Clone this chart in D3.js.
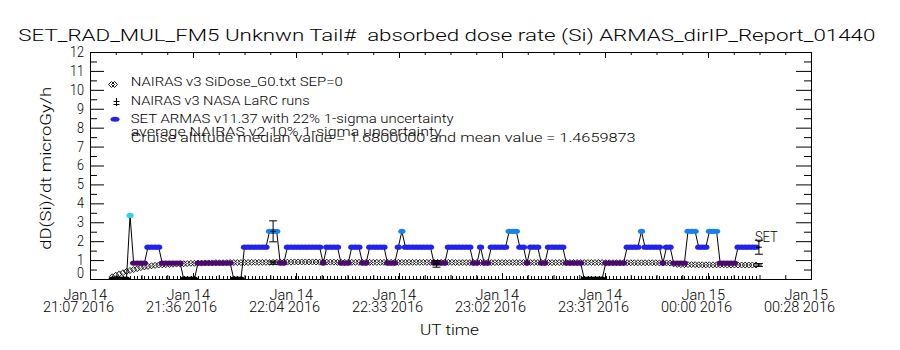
<!DOCTYPE html>
<html>
<head>
<meta charset="utf-8">
<script src="https://cdn.jsdelivr.net/npm/d3@7"></script>
<style>
    body { margin: 0; background: #fff; }
    text { font-family: Roboto, "Liberation Sans", Arial, sans-serif; font-weight: 300; fill: #000; }
</style>
</head>
<body>
<div id="chart-area"></div>
<script>
// x range of the plot (UT)
let xDomain = ["2016-01-14T21:07:18Z", "2016-01-15T00:28:54Z"];
let yTicks = [0, 1, 2, 3, 4, 5, 6, 7, 8, 9, 10, 11, 12];

// ARMAS samples, one per minute from armasStart
let armasStart = "2016-01-14T21:13:30Z";
let armasDose = [
    0, 0, 0, 0, 0, 3.36, 0.84, 0.84, 0.84, 0.84,
    1.68, 1.68, 1.68, 1.68, 0.84, 0.84, 0.84, 0.84, 0.84, 0.84,
    0, 0, 0, 0, 0.84, 0.84, 0.84, 0.84, 0.84, 0.84,
    0.84, 0.84, 0.84, 0.84, 0, 0, 0, 1.68, 1.68, 1.68,
    1.68, 1.68, 1.68, 1.68, 2.52, 2.52, 2.52, 0.84, 0.84, 1.68,
    1.68, 1.68, 1.68, 1.68, 1.68, 1.68, 1.68, 1.68, 1.68, 0.84,
    1.68, 1.68, 1.68, 1.68, 0.84, 0.84, 0.84, 1.68, 1.68, 1.68,
    0.84, 0.84, 1.68, 1.68, 1.68, 1.68, 1.68, 0.84, 0.84, 0.84,
    1.68, 2.52, 1.68, 1.68, 1.68, 1.68, 1.68, 1.68, 1.68, 1.68,
    0.84, 0.84, 0.84, 0.84, 1.68, 1.68, 1.68, 1.68, 1.68, 1.68,
    1.68, 0.84, 0.84, 1.68, 0.84, 0.84, 1.68, 1.68, 1.68, 1.68,
    1.68, 2.52, 2.52, 2.52, 1.68, 1.68, 0.84, 1.68, 1.68, 1.68,
    0.84, 0.84, 1.68, 1.68, 1.68, 1.68, 1.68, 0.84, 0.84, 0.84,
    0.84, 0.84, 0, 0, 0, 0, 0, 0, 0.84, 0.84,
    0.84, 0.84, 0.84, 0.84, 1.68, 1.68, 1.68, 1.68, 2.52, 1.68,
    1.68, 1.68, 1.68, 1.68, 0.84, 1.68, 1.68, 0.84, 0.84, 0.84,
    0.84, 2.52, 2.52, 2.52, 1.68, 1.68, 1.68, 2.52, 2.52, 2.52,
    0.84, 0.84, 0.84, 0.84, 0.84, 1.68, 1.68, 1.68, 1.68, 1.68,
    1.68
];
// NAIRAS v3 SiDose at the same times
let nairasDose = [
    0.12, 0.20, 0.27, 0.33, 0.40, 0.45, 0.50, 0.55, 0.60, 0.64,
    0.67, 0.70, 0.72, 0.74, 0.75, 0.76, 0.77, 0.78, 0.79, 0.80,
    0.81, 0.82, 0.83, 0.83, 0.84, 0.84, 0.85, 0.85, 0.85, 0.86,
    0.86, 0.86, 0.86, 0.87, 0.87, 0.87, 0.87, 0.87, 0.87, 0.88,
    0.88, 0.88, 0.88, 0.88, 0.88, 0.88, 0.89, 0.89, 0.89, 0.89,
    0.89, 0.90, 0.90, 0.90, 0.90, 0.90, 0.90, 0.90, 0.89, 0.89,
    0.89, 0.89, 0.89, 0.88, 0.88, 0.88, 0.88, 0.88, 0.88, 0.88,
    0.88, 0.88, 0.88, 0.88, 0.88, 0.88, 0.88, 0.88, 0.88, 0.88,
    0.88, 0.88, 0.88, 0.88, 0.88, 0.88, 0.88, 0.88, 0.88, 0.88,
    0.88, 0.88, 0.88, 0.88, 0.88, 0.88, 0.87, 0.87, 0.87, 0.87,
    0.87, 0.87, 0.87, 0.87, 0.87, 0.87, 0.87, 0.87, 0.87, 0.87,
    0.87, 0.87, 0.87, 0.87, 0.87, 0.87, 0.87, 0.87, 0.87, 0.87,
    0.87, 0.87, 0.87, 0.87, 0.87, 0.87, 0.87, 0.87, 0.87, 0.87,
    0.87, 0.87, 0.87, 0.87, 0.87, 0.87, 0.87, 0.87, 0.86, 0.86,
    0.86, 0.86, 0.86, 0.86, 0.86, 0.86, 0.86, 0.86, 0.86, 0.86,
    0.86, 0.86, 0.86, 0.85, 0.85, 0.85, 0.84, 0.80, 0.77, 0.76,
    0.76, 0.76, 0.76, 0.76, 0.75, 0.75, 0.75, 0.75, 0.75, 0.75,
    0.75, 0.75, 0.74, 0.74, 0.74, 0.74, 0.74, 0.74, 0.74, 0.74,
    0.74
];

// NASA LaRC comparison runs
let larcTimes = ["2016-01-14T21:58:30Z", "2016-01-14T22:44:10Z", "2016-01-15T00:14:20Z"];
let larcArmas = [2.52, 0.80, 1.68];
let larcNairas = [0.86, 0.88, 0.74];
let armasUnc = 0.22, nairasUnc = 0.10;

let legendLabels = [
    "NAIRAS v3 SiDose_G0.txt SEP=0",
    "NAIRAS v3 NASA LaRC runs",
    "SET ARMAS v11.37 with 22% 1-sigma uncertainty"
];
let infoLines = [
    "average NAIRAS v2 10% 1-sigma uncertainty",
    "Cruise altitude median value = 1.6800000 and mean value = 1.4659873"
];
let titleText = "SET_RAD_MUL_FM5 Unknwn Tail#  absorbed dose rate (Si) ARMAS_dirIP_Report_01440";

let margin = {left: 90, right: 89, top: 52, bottom: 71};
let width = 900 - margin.left - margin.right,
    height = 350 - margin.top - margin.bottom;

let svg = d3.select("#chart-area")
    .append("svg")
    .attr("width", 900)
    .attr("height", 350);

let g = svg.append("g")
    .attr("transform", "translate(" + margin.left + "," + margin.top + ")");

// Scales
let x = d3.scaleUtc()
    .domain(xDomain.map(d => new Date(d)))
    .range([0, width]);
let y = d3.scaleLinear()
    .domain([0, 12])
    .range([height, 0]);
let doseColor = d3.scaleThreshold()
    .domain([0.4, 1.2, 2.1, 2.9])
    .range(["#000000", "#4c0a70", "#2222ee", "#1a80ea", "#30d4e8"]);

let t0 = new Date(armasStart);
let samples = armasDose.map((v, i) => ({
    t: new Date(t0.getTime() + i * 60000),
    armas: v,
    nairas: nairasDose[i]
}));

// ticks (IDL style: inside, on all four sides)
let d0 = x.domain()[0].getTime(), d1 = x.domain()[1].getTime();
let majorX = d3.range(8).map(k => new Date(d0 + k * (d1 - d0) / 7));
let minorX = d3.range(29).map(k => new Date(d0 + k * (d1 - d0) / 28));
let minorY = d3.range(0.5, 12, 1);

g.append("g").attr("transform", "translate(0," + height + ")")
    .call(d3.axisBottom(x).tickValues(minorX).tickSize(-4).tickFormat(""));
g.append("g").attr("transform", "translate(0," + height + ")")
    .call(d3.axisBottom(x).tickValues(majorX).tickSize(-6).tickFormat(""));
g.append("g")
    .call(d3.axisTop(x).tickValues(minorX).tickSize(-3).tickFormat(""));
g.append("g")
    .call(d3.axisTop(x).tickValues(majorX).tickSize(-6).tickFormat(""));
g.append("g")
    .call(d3.axisLeft(y).tickValues(minorY).tickSize(-7).tickFormat(""));
g.append("g")
    .attr("transform", "translate(" + width + ",0)")
    .call(d3.axisRight(y).tickValues(minorY).tickSize(-7).tickFormat(""));
g.append("g")
    .attr("transform", "translate(" + width + ",0)")
    .call(d3.axisRight(y).tickValues(yTicks).tickSize(-15).tickFormat(""));

let yAxis = g.append("g")
    .attr("class", "y axis")
    .call(d3.axisLeft(y).tickValues(yTicks).tickSize(-14).tickPadding(6).tickFormat(d3.format("d")));
yAxis.attr("font-family", null);
yAxis.selectAll("text")
    .attr("font-size", "14px")
    .attr("textLength", d => d >= 10 ? 14 : 7)
    .attr("lengthAdjust", "spacingAndGlyphs");
yAxis.selectAll("text").filter(d => d === 0).attr("y", -5.5);

g.selectAll(".domain").remove();
g.selectAll(".tick line").attr("stroke", "#000");

// x tick labels, two lines in one text each
let fmtDay = d3.utcFormat("%b %d"), fmtTime = d3.utcFormat("%H:%M %Y");
majorX.forEach(t => {
    let xt = x(t);
    let lbl = g.append("text")
        .attr("font-size", "14px");
    lbl.append("tspan")
        .attr("x", xt - 26.5)
        .attr("y", height + 21)
        .attr("textLength", 43.5)
        .attr("lengthAdjust", "spacingAndGlyphs")
        .text(fmtDay(t));
    lbl.append("tspan")
        .attr("x", xt - 47)
        .attr("y", height + 33.3)
        .attr("textLength", 71)
        .attr("lengthAdjust", "spacingAndGlyphs")
        .text(fmtTime(t));
});

// Labels
svg.append("text")
    .attr("x", 18.3)
    .attr("y", 40.7)
    .attr("font-size", "16px")
    .style("white-space", "pre")
    .attr("textLength", 857)
    .attr("lengthAdjust", "spacingAndGlyphs")
    .text(titleText);
svg.append("text")
    .attr("x", 420)
    .attr("y", 335)
    .attr("font-size", "14.5px")
    .attr("textLength", 59)
    .attr("lengthAdjust", "spacingAndGlyphs")
    .text("UT time");
svg.append("text")
    .attr("transform", "translate(51,168.3) rotate(-90)")
    .attr("text-anchor", "middle")
    .attr("font-size", "15.5px")
    .attr("textLength", 163)
    .attr("lengthAdjust", "spacingAndGlyphs")
    .text("dD(Si)/dt microGy/h");

// data layers
g.append("clipPath").attr("id", "plot-clip")
    .append("rect").attr("width", width).attr("height", height);
let data = g.append("g").attr("clip-path", "url(#plot-clip)");

// sample rug along the time axis
data.selectAll(".rug").data(samples).enter()
    .append("line")
    .attr("class", "rug")
    .attr("x1", d => Math.round(x(d.t)) + 0.5)
    .attr("x2", d => Math.round(x(d.t)) + 0.5)
    .attr("y1", height)
    .attr("y2", height - 3)
    .attr("stroke", "#000");

// NAIRAS diamonds
data.selectAll(".nairas").data(samples).enter()
    .append("path")
    .attr("class", "nairas")
    .attr("d", d => {
        let cx = x(d.t), cy = y(d.nairas);
        return `M${cx - 3},${cy}L${cx},${cy - 3}L${cx + 3},${cy}L${cx},${cy + 3}Z`;
    })
    .attr("fill", "none")
    .attr("stroke", "#000")
    .attr("stroke-width", 0.9);

// ARMAS line and points
data.append("path")
    .datum(samples)
    .attr("d", d3.line().x(d => x(d.t)).y(d => y(d.armas)))
    .attr("fill", "none")
    .attr("stroke", "#000")
    .attr("stroke-width", 1);

data.selectAll(".armas").data(samples).enter()
    .append("ellipse")
    .attr("class", "armas")
    .attr("cx", d => x(d.t))
    .attr("cy", d => y(d.armas))
    .attr("rx", 3.6)
    .attr("ry", 2.6)
    .attr("fill", d => doseColor(d.armas));

// LaRC runs with error bars
let bars = [];
larcTimes.forEach((t, i) => {
    bars.push({t: new Date(t), v: larcArmas[i], u: armasUnc});
    bars.push({t: new Date(t), v: larcNairas[i], u: nairasUnc});
});
bars.forEach(b => {
    let bx = x(b.t), lo = y(b.v * (1 - b.u)), hi = y(b.v * (1 + b.u)), c = y(b.v);
    let bar = g.append("g").attr("stroke", "#000").attr("stroke-width", 1);
    bar.append("line").attr("x1", bx).attr("x2", bx).attr("y1", lo).attr("y2", hi);
    bar.append("line").attr("x1", bx - 4).attr("x2", bx + 4).attr("y1", lo).attr("y2", lo);
    bar.append("line").attr("x1", bx - 4).attr("x2", bx + 4).attr("y1", hi).attr("y2", hi);
    bar.append("line").attr("x1", bx - 3).attr("x2", bx + 3).attr("y1", c).attr("y2", c);
});
let lastT = new Date(larcTimes[larcTimes.length - 1]);
g.append("text")
    .attr("x", x(lastT) - 4)
    .attr("y", y(larcArmas[larcArmas.length - 1] * (1 + armasUnc)) + 1.5)
    .attr("font-size", "14px")
    .attr("textLength", 23)
    .attr("lengthAdjust", "spacingAndGlyphs")
    .text("SET");

// LEGEND
let legend = svg.append("g");
let legendY = [86, 104.5, 123];
let legendW = [212, 179, 323];
legendLabels.forEach((label, i) => {
    legend.append("text")
        .attr("x", 130.7)
        .attr("y", legendY[i])
        .attr("font-size", "13px")
        .attr("textLength", legendW[i])
        .attr("lengthAdjust", "spacingAndGlyphs")
        .text(label);
});
[111.5, 114.5].forEach(cx => {
    legend.append("path")
        .attr("d", `M${cx - 3},84.5L${cx},81.5L${cx + 3},84.5L${cx},87.5Z`)
        .attr("fill", "none")
        .attr("stroke", "#000")
        .attr("stroke-width", 0.9);
});
legend.append("path")
    .attr("d", "M116.5,98V106M113.5,101.5H119.5M113.5,104.5H119.5")
    .attr("stroke", "#000")
    .attr("fill", "none");
legend.append("ellipse")
    .attr("cx", 115)
    .attr("cy", 119.3)
    .attr("rx", 4.5)
    .attr("ry", 2.5)
    .attr("fill", doseColor(1.68));

// the two info lines overprint each other in the original
let infoY = [135.5, 141.5];
let infoW = [311, 505];
let info = legend.append("text").attr("font-size", "13px");
infoLines.forEach((line, i) => {
    info.append("tspan")
        .attr("x", 130.7)
        .attr("y", infoY[i])
        .attr("textLength", infoW[i])
        .attr("lengthAdjust", "spacingAndGlyphs")
        .text(line);
});

// box
g.append("rect")
    .attr("x", 0.5)
    .attr("y", 0.5)
    .attr("width", width)
    .attr("height", height)
    .attr("fill", "none")
    .attr("stroke", "#000");
</script>
</body>
</html>
